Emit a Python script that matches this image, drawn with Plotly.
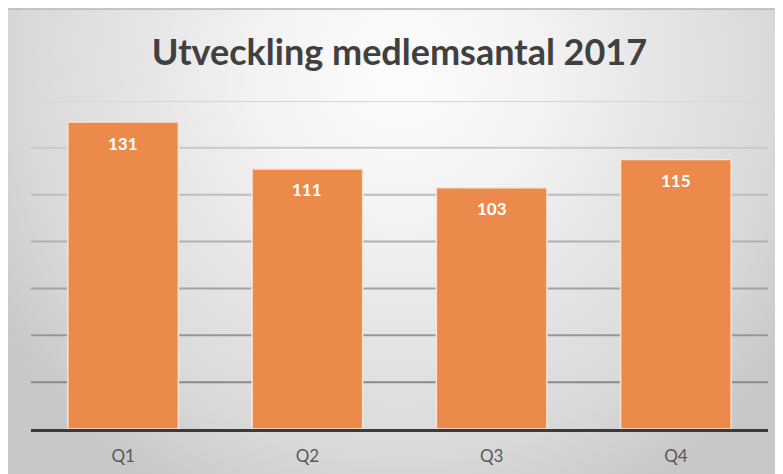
import plotly.graph_objects as go
import urllib.parse

categories = ["Q1", "Q2", "Q3", "Q4"]
values = [131, 111, 103, 115]
grid_values = [20, 40, 60, 80, 100, 120, 140]
title_text = "Utveckling medlemsantal 2017"

W, H = 783, 474
L, R, T, B = 23, 23, 93, 53
pw, ph = W - L - R, H - T - B

GW, GH = W, H - 1
svg = (
    f"<svg xmlns='http://www.w3.org/2000/svg' width='{GW}' height='{GH}' preserveAspectRatio='none'>"
    "<defs><radialGradient id='g' gradientUnits='userSpaceOnUse' cx='0' cy='0' r='1' "
    "gradientTransform='translate(392,62) scale(470,480)'>"
    "<stop offset='0' stop-color='#fcfcfc'/><stop offset='0.3' stop-color='#f3f3f3'/>"
    "<stop offset='0.55' stop-color='#e5e5e5'/><stop offset='0.8' stop-color='#d9d9d9'/>"
    "<stop offset='1' stop-color='#c8c8c8'/></radialGradient></defs>"
    f"<rect width='{GW}' height='{GH}' fill='url(#g)'/></svg>"
)
src = "data:image/svg+xml;charset=utf-8," + urllib.parse.quote(svg)

x0 = -L / pw
x1 = (W - L) / pw
y0 = (H - B - 1) / ph
y1 = -B / ph

fig = go.Figure()
fig.add_trace(go.Bar(
    x=categories, y=values,
    marker=dict(color="#EC8A4B", line=dict(color="#FBE3D3", width=1.5)),
    hoverinfo="skip",
))
for c, v in zip(categories, values):
    fig.add_annotation(x=c, y=v, text=f"<b>{v}</b>", showarrow=False, yshift=-21,
                       font=dict(family="Lato, sans-serif", size=17, color="white"))

fig.add_layout_image(dict(source=src, xref="paper", yref="paper", x=x0, y=y0,
                          sizex=x1 - x0, sizey=y0 - y1, sizing="stretch",
                          xanchor="left", yanchor="top", layer="below"))
fig.add_shape(type="line", xref="paper", yref="paper", x0=x0, x1=x1, y0=y0, y1=y0,
              line=dict(color="#b4b4b4", width=1.5), layer="below")

gmin, gmax = min(grid_values), max(grid_values)
for g in grid_values:
    t = (g - gmin) / (gmax - gmin)
    lv = int(round(0x8a + (0xd6 - 0x8a) * t))
    fig.add_shape(type="line", xref="paper", yref="y", x0=0, x1=1, y0=g, y1=g,
                  line=dict(color=f"rgb({lv},{lv},{lv})", width=2), layer="below")

fig.update_layout(
    width=W, height=H,
    margin=dict(l=L, r=R, t=T, b=B),
    paper_bgcolor="white",
    plot_bgcolor="rgba(0,0,0,0)",
    bargap=0.4,
    showlegend=False,
    title=dict(text=f"<b>{title_text}</b>", x=0.5, xanchor="center", y=1 - 44 / H, yanchor="middle",
               font=dict(family="Lato, sans-serif", size=36, color="#404040")),
    xaxis=dict(showline=True, linecolor="#3a3a3a", linewidth=3, showgrid=False,
               ticks="outside", ticklen=10, tickcolor="rgba(0,0,0,0)",
               tickfont=dict(family="Lato, sans-serif", size=17, color="#595959")),
    yaxis=dict(range=[0, 140], showticklabels=False, showgrid=False, zeroline=False),
)

fig.write_html("out.html")
